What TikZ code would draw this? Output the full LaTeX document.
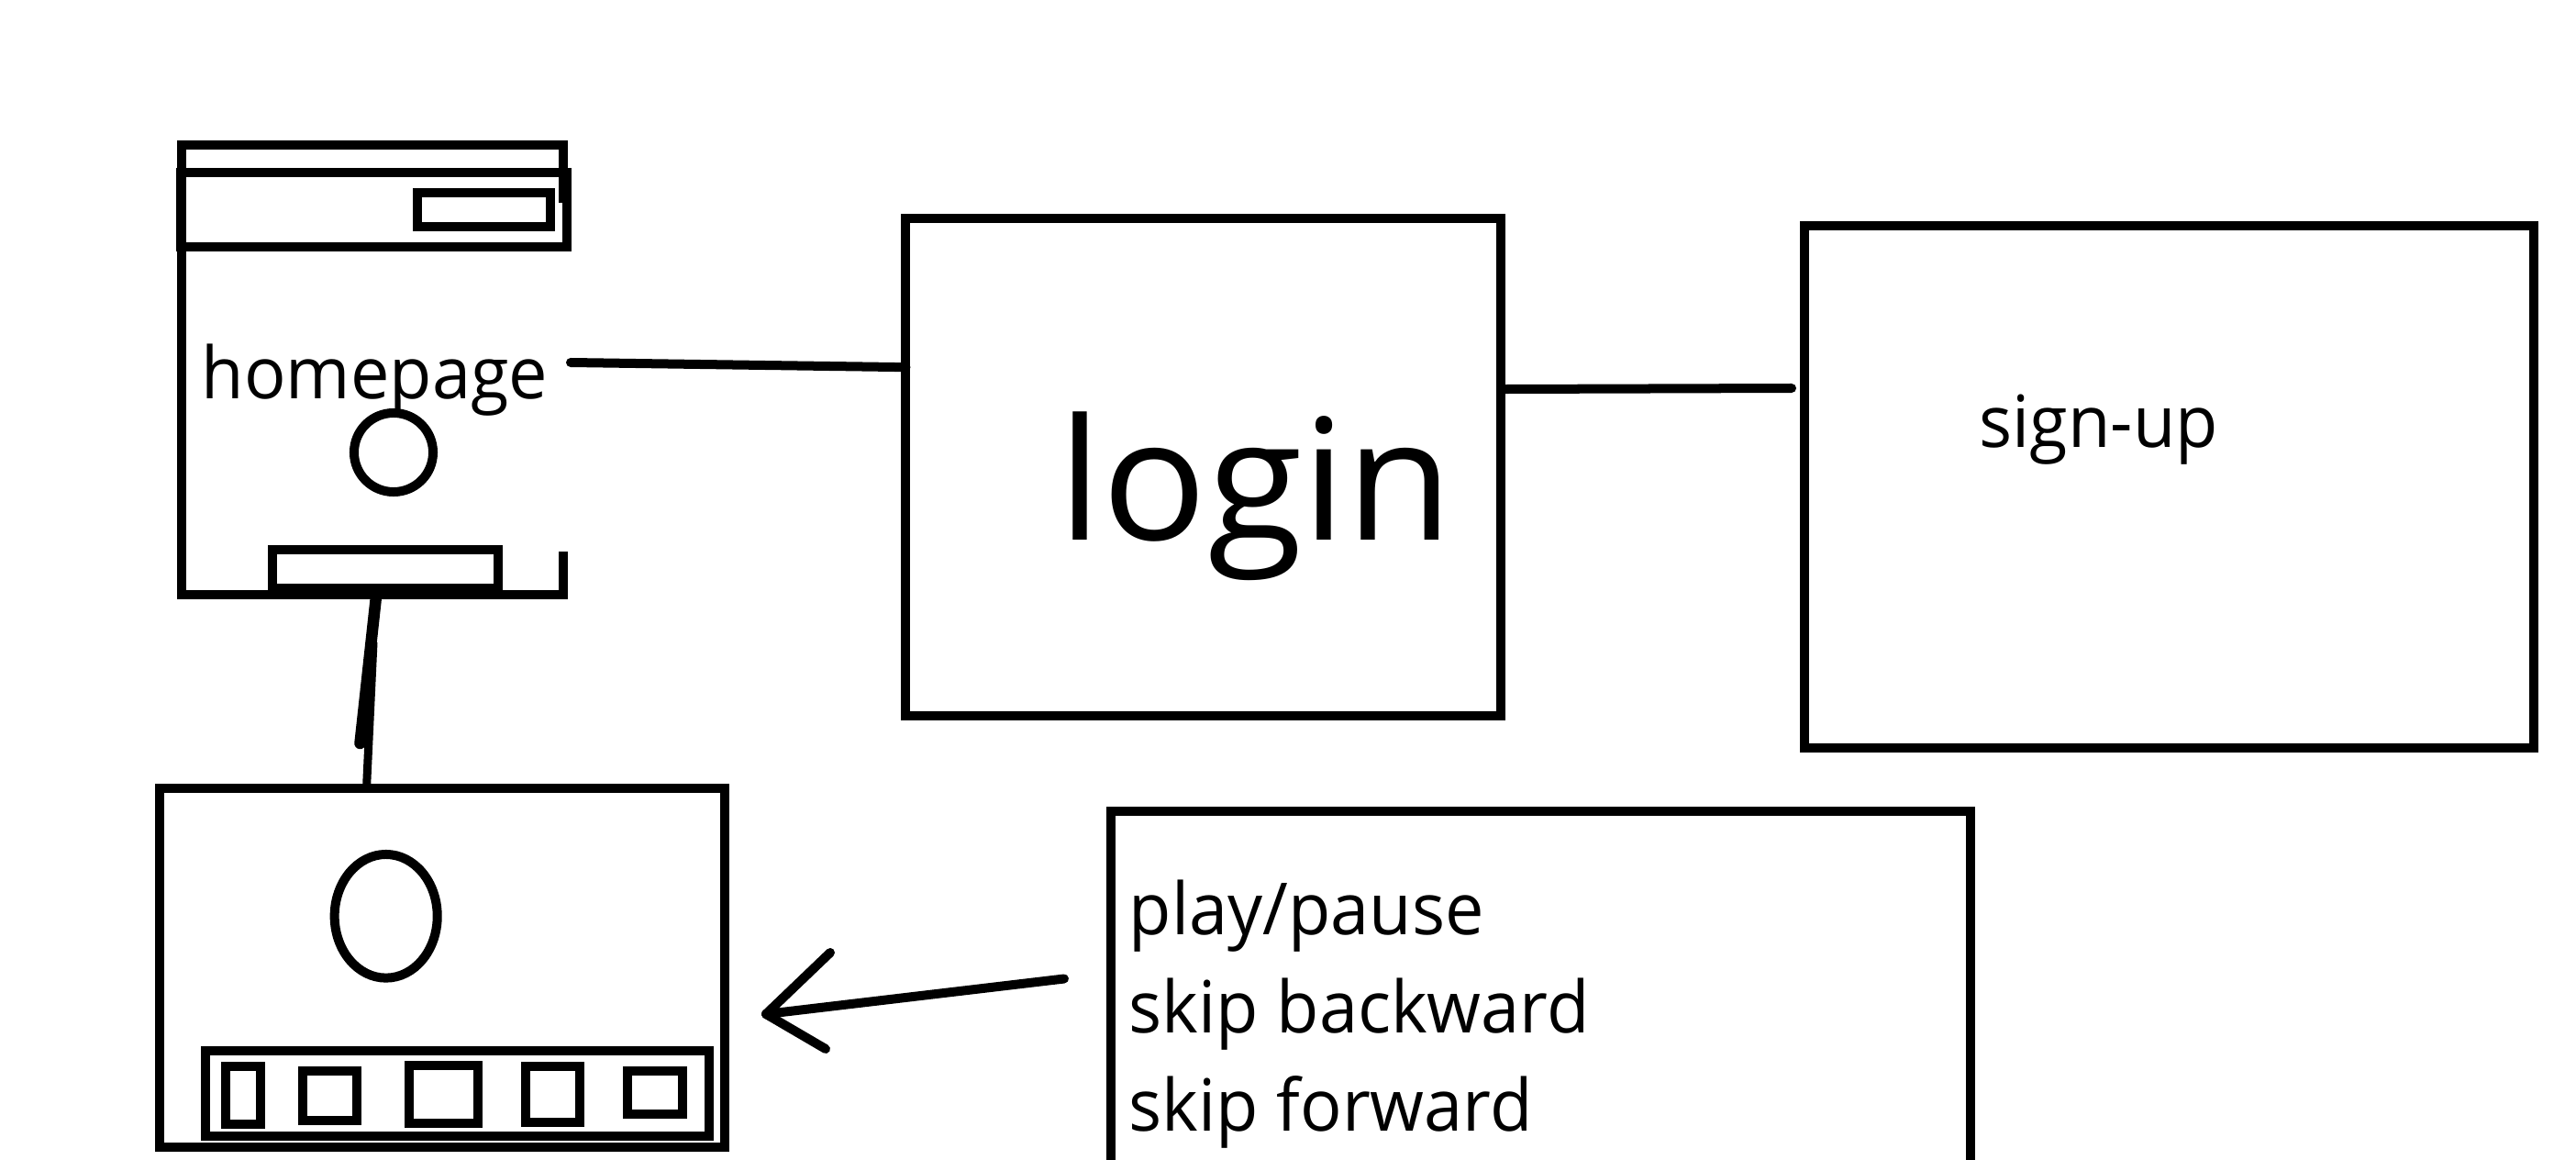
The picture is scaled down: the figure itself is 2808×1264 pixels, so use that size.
\documentclass[tikz,border=0pt]{standalone}
\usepackage{fontspec}
\setmainfont{Open Sans}
\newfontfamily\smallf[FakeStretch=0.965]{Open Sans}
\newfontfamily\bigf[FakeStretch=1.03]{Open Sans}
\usetikzlibrary{calc,shapes.geometric}
\begin{document}
\begin{tikzpicture}[x=0.01cm,y=-0.01cm,
  ln/.style={line width=0.1cm},
  box/.style={draw, ln, rectangle, inner sep=0pt, outer sep=0pt},
  con/.style={line width=0.1cm, line cap=round},
  lbl/.style={inner sep=0pt, anchor=base west, font=\smallf\fontsize{22.3}{26}\selectfont}]
\useasboundingbox (0,0) rectangle (2808,1264);
\clip (0,0) rectangle (2808,1264);
\fill[white] (0,0) rectangle (2808,1264);

% ---------- homepage wireframe ----------
\draw[ln] (614,221) -- (614,158) -- (198,158) -- (198,648) -- (614,648) -- (614,601);
\draw[ln] (197.5,188) rectangle (618,268.6);
\node[box, minimum width=1.45cm, minimum height=0.374cm] (hpbtn) at (527.5,228.7) {};
\node[box, minimum width=2.45cm, minimum height=0.42cm] (hpfoot) at (420,620) {};
\node[draw, ln, circle, minimum size=0.86cm, inner sep=0pt] (hpknob) at (429,493) {};
\node[lbl] (hptext) at (219,435) {homepage};
\coordinate (hpR) at (622,395);
\coordinate (hpB) at (410,650);

% ---------- login ----------
\node[box, minimum width=6.483cm, minimum height=5.418cm] (login) at (1311.8,508.6) {};
\node[inner sep=0pt, anchor=base west, font=\bigf\fontsize{52.3}{60}\selectfont] (logintext) at (1153,589) {login};

% ---------- sign-up ----------
\node[box, minimum width=7.953cm, minimum height=5.693cm] (signup) at (2364.4,530.4) {};
\node[lbl] (sutext) at (2157,488) {sign-up};
\coordinate (suL) at (1953,423);

% ---------- player ----------
\node[box, minimum width=6.153cm, minimum height=3.905cm] (player) at (482,1054.8) {};
\node[draw, ln, ellipse, minimum width=1.12cm, minimum height=1.346cm, inner sep=0pt] (plscreen) at (420.7,998.3) {};
\node[box, minimum width=5.492cm, minimum height=0.927cm] (plbar) at (498.4,1191.35) {};
\node[box, minimum width=0.378cm, minimum height=0.63cm] (b1) at (264.9,1193.2) {};
\node[box, minimum width=0.585cm, minimum height=0.54cm] (b2) at (359.65,1194) {};
\node[box, minimum width=0.746cm, minimum height=0.627cm] (b3) at (483.3,1192.35) {};
\node[box, minimum width=0.586cm, minimum height=0.607cm] (b4) at (602.3,1192.35) {};
\node[box, minimum width=0.599cm, minimum height=0.467cm] (b5) at (713.95,1190.35) {};

% ---------- controls ----------
\node[box, minimum width=9.37cm, minimum height=6cm] (ctrl) at (1679.5,1184) {};
\node[lbl] (t1) at (1230,1018) {play/pause};
\node[lbl] (t2) at (1230,1125) {skip backward};
\node[lbl] (t3) at (1230,1232) {skip forward};

% ---------- connectors ----------
\draw[con] (hpR) -- ($(login.north west)!0.3!(login.south west)$);
\draw[con] ($(login.north east)!0.344!(login.south east)$) -- (suL);
\coordinate (c1) at (392.5,810);
\coordinate (c2) at (407,700);
\draw[line width=0.125cm, line cap=round] (hpB) -- (c1);
\draw[line width=0.09cm] (c2) -- ($(player.north west)!0.366!(player.north east)$);
\coordinate (artail) at (1160,1066.5);
\coordinate (artip) at (835,1105);
\draw[con] (artail) -- (artip);
\draw[con] (artip) -- ++(70,-67);
\draw[con] (artip) -- ++(65,38);
\end{tikzpicture}
\end{document}
